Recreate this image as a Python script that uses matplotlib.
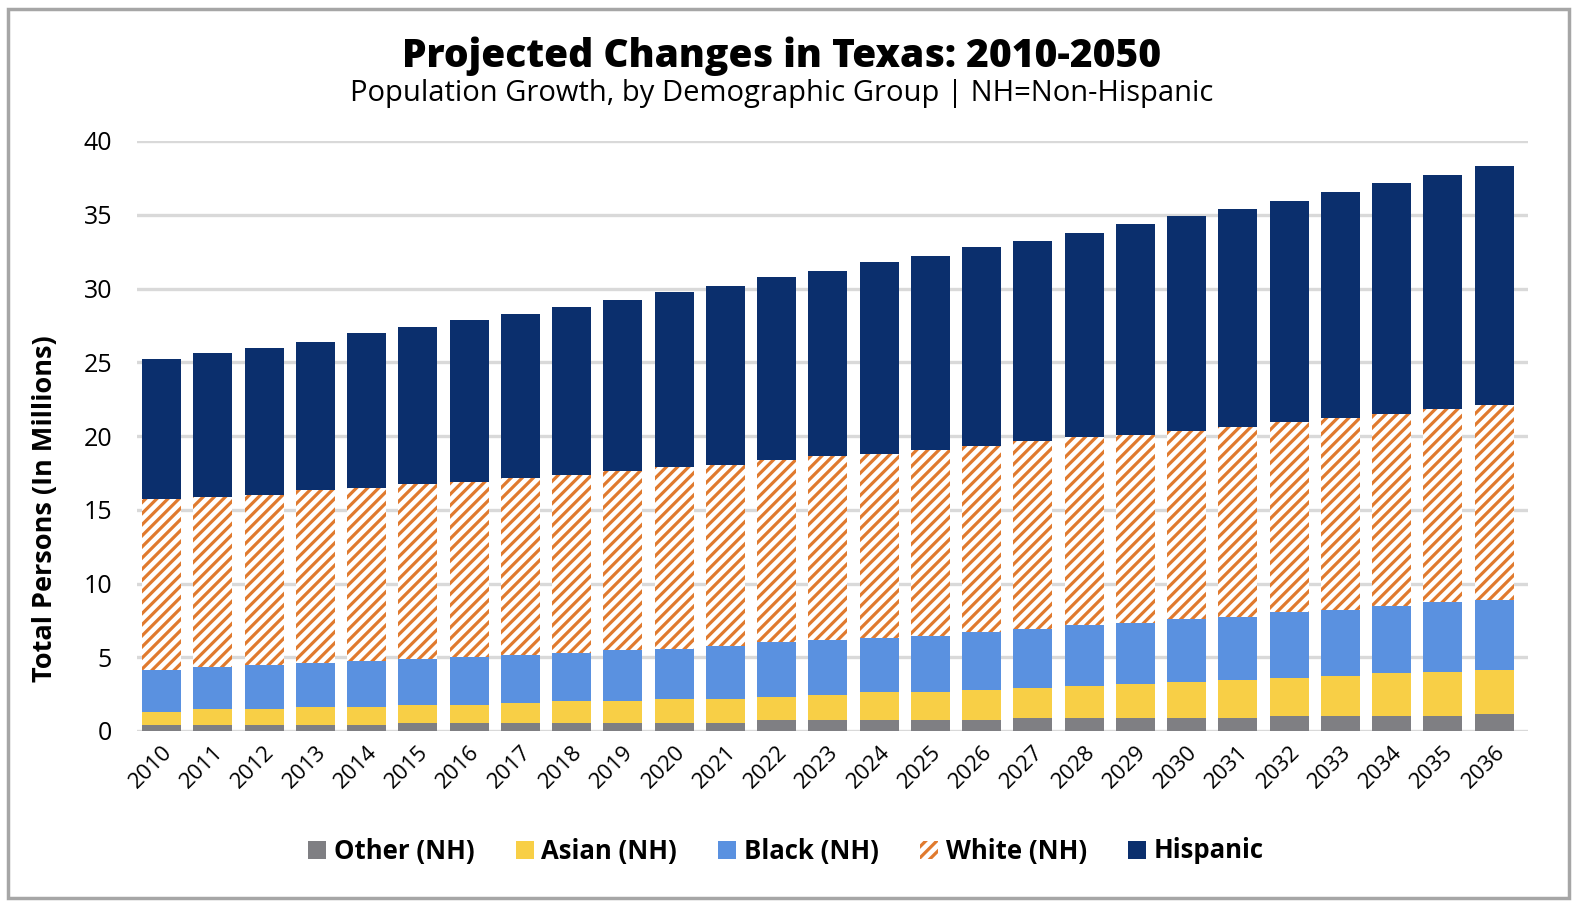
import matplotlib
matplotlib.use("Agg")
import matplotlib.pyplot as plt
from matplotlib.patches import Rectangle
import numpy as np

years = [str(y) for y in range(2010, 2037)]
other = [0.44, 0.44, 0.44, 0.44, 0.44, 0.57, 0.57, 0.57, 0.57, 0.57, 0.57, 0.57, 0.73, 0.73,
         0.73, 0.73, 0.74, 0.88, 0.88, 0.88, 0.88, 0.88, 1.04, 1.04, 1.04, 1.04, 1.17]
asian = [0.88, 1.04, 1.04, 1.17, 1.17, 1.19, 1.19, 1.32, 1.46, 1.48, 1.61, 1.61, 1.60, 1.74,
         1.89, 1.89, 2.01, 2.01, 2.16, 2.31, 2.45, 2.58, 2.57, 2.70, 2.86, 2.99, 2.99]
black = [2.84, 2.84, 2.99, 2.99, 3.15, 3.13, 3.26, 3.29, 3.28, 3.41, 3.41, 3.55, 3.71, 3.70,
         3.70, 3.83, 3.99, 4.00, 4.14, 4.12, 4.27, 4.27, 4.43, 4.43, 4.56, 4.71, 4.74]
white = [11.60, 11.57, 11.55, 11.71, 11.71, 11.87, 11.87, 12.00, 12.02, 12.16, 12.30, 12.31,
         12.32, 12.45, 12.44, 12.62, 12.59, 12.75, 12.73, 12.73, 12.76, 12.89, 12.89, 13.05,
         13.05, 13.06, 13.19]
hispanic = [9.47, 9.77, 9.93, 10.09, 10.50, 10.66, 10.96, 11.12, 11.40, 11.57, 11.88, 12.16,
            12.41, 12.57, 13.01, 13.14, 13.45, 13.58, 13.86, 14.30, 14.55, 14.74, 15.02, 15.30,
            15.62, 15.92, 16.20]
series_names = ["Other (NH)", "Asian (NH)", "Black (NH)", "White (NH)", "Hispanic"]
yticks = [0, 5, 10, 15, 20, 25, 30, 35, 40]

FONT = "Open Sans"
plt.rcParams["font.family"] = [FONT, "DejaVu Sans"]
plt.rcParams["hatch.linewidth"] = 2.3

W, H = 1578, 906
fig = plt.figure(figsize=(W / 100, H / 100), dpi=100)
fig.patch.set_facecolor("white")

left, right, bottom, top = 137, 1528, 731, 141
ax = fig.add_axes([left / W, 1 - bottom / H, (right - left) / W, (bottom - top) / H])

x = np.arange(len(years))
bw = 0.76
c_other = "#7f7f83"
c_asian = "#f8cf46"
c_black = "#5a91e0"
c_white = "#e07a2e"
c_hisp = "#0b2f6d"

b = np.zeros(len(years))
ax.bar(x, other, bw, bottom=b, color=c_other, label=series_names[0], zorder=3)
b += other
ax.bar(x, asian, bw, bottom=b, color=c_asian, label=series_names[1], zorder=3)
b += asian
ax.bar(x, black, bw, bottom=b, color=c_black, label=series_names[2], zorder=3)
b += black
ax.bar(x, white, bw, bottom=b, facecolor="white", edgecolor=c_white, hatch="///",
       linewidth=0, label=series_names[3], zorder=3)
b += white
ax.bar(x, hispanic, bw, bottom=b, color=c_hisp, label=series_names[4], zorder=3)

ax.set_xlim(-0.48, len(years) - 0.34)
ax.set_ylim(0, 40)
ax.set_yticks(yticks)
ax.set_yticklabels([str(t) for t in yticks], fontsize=18)
ax.set_xticks(x)
ax.set_xticklabels(years, rotation=45, ha="right", rotation_mode="anchor", fontsize=16)
ax.tick_params(axis="both", length=0)
ax.tick_params(axis="y", pad=18)
ax.tick_params(axis="x", pad=8)
for s in ax.spines.values():
    s.set_visible(False)
ax.yaxis.grid(True, color="#d9d9d9", linewidth=2.4, zorder=0)
ax.set_axisbelow(True)

fig.text(45 / W, 1 - 509 / H, "Total Persons (In Millions)", rotation=90, ha="center",
         va="center", fontsize=19.5, fontweight="bold")

fig.text(782 / W, 1 - 56 / H, "Projected Changes in Texas: 2010-2050", ha="center",
         va="center", fontsize=28, fontweight="heavy")
fig.text(782 / W, 1 - 94 / H, "Population Growth, by Demographic Group | NH=Non-Hispanic",
         ha="center", va="center", fontsize=21)

leg = fig.legend(loc="center", bbox_to_anchor=(786 / W, 1 - 851 / H), ncol=5, frameon=False,
                 prop={"size": 18.5, "weight": "bold"}, handlelength=0.7, handleheight=0.7,
                 handletextpad=0.3, columnspacing=1.6)

fig.patches.append(Rectangle((8 / W, 8 / H), 1 - 17 / W, 1 - 17 / H, transform=fig.transFigure,
                             fill=False, edgecolor="#a6a6a6", linewidth=2.5))

fig.savefig("out.png", dpi=100, facecolor="white")
